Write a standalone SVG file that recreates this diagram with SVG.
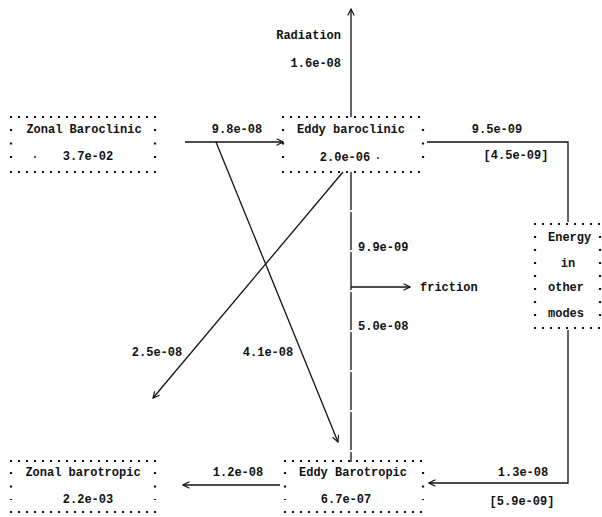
<svg xmlns="http://www.w3.org/2000/svg" width="602" height="517" viewBox="0 0 602 517">
<style>
  text { font-family: "Liberation Mono", "DejaVu Sans Mono", monospace; font-size: 12px; font-weight: bold; fill: #111; }
  .m { text-anchor: middle; }
  .e { text-anchor: end; }
  .dh { stroke: #111; stroke-width: 2.2; stroke-dasharray: 2 6; fill: none; }
  .dv { stroke: #111; stroke-width: 2.2; fill: none; }
  .ln { stroke: #111; stroke-width: 1.3; fill: none; }
  .arr { marker-end: url(#ah); }
</style>
<defs>
  <marker id="ah" viewBox="0 0 10 10" refX="9" refY="5" markerWidth="8" markerHeight="8" markerUnits="userSpaceOnUse" orient="auto">
    <path d="M1,1 L9,5 L1,9" stroke="#111" stroke-width="1.4" fill="none"/>
  </marker>
</defs>
<rect width="602" height="517" fill="#fff"/>

<g id="connectors">
  <line class="ln arr" x1="351" y1="117" x2="351" y2="9"/>
  <line class="ln arr" x1="185" y1="142" x2="283" y2="142"/>
  <line class="ln arr" x1="216" y1="142" x2="338" y2="442"/>
  <line class="ln arr" x1="343" y1="172" x2="153" y2="398"/>
  <line class="ln" x1="351" y1="172" x2="351" y2="462" stroke-dasharray="38 2"/>
  <line class="ln arr" x1="351" y1="287" x2="410" y2="287"/>
  <path class="ln" d="M427,142 H568 V222"/>
  <path class="ln arr" d="M568,330 V483 H429"/>
  <line class="ln arr" x1="280" y1="485" x2="183" y2="485"/>
  <text class="e" x="341" y="39">Radiation</text>
  <text class="e" x="341" y="67">1.6e-08</text>
  <text class="m" x="237" y="133">9.8e-08</text>
  <text class="m" x="497" y="133">9.5e-09</text>
  <text class="m" x="516" y="159">[4.5e-09]</text>
  <text x="358" y="251">9.9e-09</text>
  <text x="420" y="291">friction</text>
  <text x="358" y="330">5.0e-08</text>
  <text class="m" x="157" y="356">2.5e-08</text>
  <text class="m" x="268" y="356">4.1e-08</text>
  <text class="m" x="238" y="476">1.2e-08</text>
  <text class="m" x="523" y="476">1.3e-08</text>
  <text class="m" x="522" y="505">[5.9e-09]</text>
</g>

<g id="zonal-baroclinic">
  <line class="dh" x1="10" y1="117" x2="156" y2="117"/>
  <line class="dh" x1="10" y1="172" x2="156" y2="172"/>
  <line class="dv" x1="11" y1="129" x2="11" y2="160" stroke-dasharray="2 11.5"/>
  <line class="dv" x1="155" y1="129" x2="155" y2="160" stroke-dasharray="2 11.5"/>
  <circle cx="35" cy="157" r="0.9" fill="#111"/>
  <text class="m" x="84" y="133">Zonal Baroclinic</text>
  <text class="m" x="88" y="160">3.7e-02</text>
</g>

<g id="eddy-baroclinic">
  <line class="dh" x1="282" y1="117" x2="426" y2="117"/>
  <line class="dh" x1="282" y1="172" x2="426" y2="172"/>
  <line class="dv" x1="283" y1="129" x2="283" y2="160" stroke-dasharray="2 11.5"/>
  <line class="dv" x1="423" y1="129" x2="423" y2="160" stroke-dasharray="2 11.5"/>
  <text class="m" x="351" y="133">Eddy baroclinic</text>
  <text class="m" x="345" y="161">2.0e-06</text>
  <circle cx="378" cy="158" r="0.9" fill="#111"/>
</g>

<g id="energy-other-modes">
  <line class="dh" x1="534" y1="224" x2="602" y2="224"/>
  <line class="dh" x1="534" y1="328" x2="602" y2="328"/>
  <line class="dv" x1="535" y1="236" x2="535" y2="316" stroke-dasharray="2 11"/>
  <line class="dv" x1="600" y1="236" x2="600" y2="316" stroke-dasharray="2 11"/>
  <text x="548" y="241">Energy</text>
  <text class="m" x="568" y="267">in</text>
  <text x="548" y="291">other</text>
  <text x="548" y="317">modes</text>
</g>

<g id="zonal-barotropic">
  <line class="dh" x1="10" y1="461" x2="156" y2="461"/>
  <line class="dh" x1="10" y1="512" x2="156" y2="512"/>
  <line class="dv" x1="11" y1="472" x2="11" y2="500" stroke-dasharray="2 11.5"/>
  <line class="dv" x1="155" y1="472" x2="155" y2="500" stroke-dasharray="2 11.5"/>
  <text class="m" x="83" y="476">Zonal barotropic</text>
  <text class="m" x="88" y="503">2.2e-03</text>
</g>

<g id="eddy-barotropic">
  <line class="dh" x1="284" y1="461" x2="426" y2="461"/>
  <line class="dh" x1="284" y1="512" x2="426" y2="512"/>
  <line class="dv" x1="285" y1="472" x2="285" y2="500" stroke-dasharray="2 11.5"/>
  <line class="dv" x1="423" y1="472" x2="423" y2="500" stroke-dasharray="2 11.5"/>
  <text class="m" x="353" y="476">Eddy Barotropic</text>
  <text class="m" x="346" y="503">6.7e-07</text>
</g>
</svg>
